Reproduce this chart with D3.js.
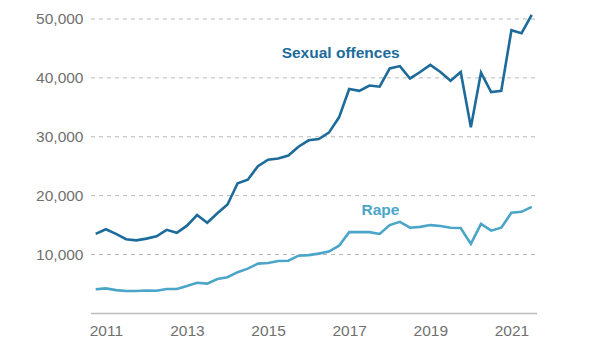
<!DOCTYPE html>
<html>
<head>
<meta charset="utf-8">
<script src="https://cdn.jsdelivr.net/npm/d3@7"></script>
<style>
  body { margin: 0; background: #fff; }
  svg { display: block; font-family: "Liberation Sans", Arial, sans-serif; }
</style>
</head>
<body>
<div id="chart"></div>
<script>
// quarters (calendar quarters, first = Oct-Dec 2010)
var quarters = [
  "2010Q4",
  "2011Q1","2011Q2","2011Q3","2011Q4",
  "2012Q1","2012Q2","2012Q3","2012Q4",
  "2013Q1","2013Q2","2013Q3","2013Q4",
  "2014Q1","2014Q2","2014Q3","2014Q4",
  "2015Q1","2015Q2","2015Q3","2015Q4",
  "2016Q1","2016Q2","2016Q3","2016Q4",
  "2017Q1","2017Q2","2017Q3","2017Q4",
  "2018Q1","2018Q2","2018Q3","2018Q4",
  "2019Q1","2019Q2","2019Q3","2019Q4",
  "2020Q1","2020Q2","2020Q3","2020Q4",
  "2021Q1","2021Q2","2021Q3"
];

var sexualOffences = [
  13500, 14300, 13500, 12600, 12400, 12700, 13100, 14200, 13700, 14900,
  16700, 15400, 17000, 18500, 22100, 22700, 25000, 26100, 26300, 26800,
  28300, 29400, 29600, 30700, 33300, 38100, 37800, 38700, 38500, 41600,
  42000, 39900, 41000, 42200, 41000, 39500, 41000, 31600, 40900, 37600,
  37800, 48100, 47600, 50700
];

var rape = [
  4100, 4250, 3950, 3800, 3800, 3900, 3850, 4150, 4150, 4650,
  5200, 5050, 5850, 6150, 7000, 7600, 8450, 8550, 8900, 8950,
  9800, 9900, 10150, 10500, 11500, 13800, 13800, 13800, 13500, 15000,
  15550, 14550, 14700, 15000, 14850, 14550, 14500, 11800, 15200, 14050,
  14550, 17100, 17250, 18100
];

var yTicks = [10000, 20000, 30000, 40000, 50000];
var xTicks = [2011, 2013, 2015, 2017, 2019, 2021];

// étiquettes des séries : position en (année, valeur)
var series = [
  { name: "Sexual offences", values: sexualOffences, color: "#1c6b9b", labelYear: 2016.79, labelValue: 43400 },
  { name: "Rape",            values: rape,           color: "#4aa5c9", labelYear: 2017.77, labelValue: 16700 }
];

var W = 600, H = 350;

function quarterToYear(q) {
  return +q.slice(0, 4) + (+q.slice(5) - 1) * 0.25;
}
var years = quarters.map(quarterToYear);

var svg = d3.select("#chart").append("svg")
    .attr("width", W)
    .attr("height", H);

// échelles
var x = d3.scaleLinear().domain([2010.75, 2021.5]).range([95.7, 531.7]);
var y = d3.scaleLinear().domain([0, 50000]).range([313.4, 19]);

var gridLeft = 91, gridRight = 537;

// gridlines
svg.append("g").selectAll("line")
    .data(yTicks)
    .enter().append("line")
    .attr("x1", gridLeft)
    .attr("x2", gridRight)
    .attr("y1", function(d) { return y(d); })
    .attr("y2", function(d) { return y(d); })
    .attr("stroke", "#b9b9b9")
    .attr("stroke-width", 1)
    .attr("stroke-dasharray", "4,4");

// baseline
svg.append("line")
    .attr("x1", gridLeft)
    .attr("x2", gridRight)
    .attr("y1", y(0))
    .attr("y2", y(0))
    .attr("stroke", "#bdbdbd")
    .attr("stroke-width", 1.5);

// y axis labels
var yAxis = svg.append("g")
    .attr("transform", "translate(" + gridLeft + ",0)")
    .call(d3.axisLeft(y).tickValues(yTicks).tickSize(0).tickPadding(7.5).tickFormat(d3.format(",")));
yAxis.select(".domain").remove();
yAxis.selectAll("text")
    .attr("fill", "#707070")
    .style("font-size", "15.5px")
    .style("font-family", "'Liberation Sans', Arial, sans-serif");

// x axis labels
var xAxis = svg.append("g")
    .attr("transform", "translate(0," + y(0) + ")")
    .call(d3.axisBottom(x).tickValues(xTicks).tickSize(0).tickFormat(d3.format("d")));
xAxis.select(".domain").remove();
xAxis.selectAll("text")
    .attr("y", 22.6)
    .attr("dy", 0)
    .attr("fill", "#707070")
    .style("font-size", "15.5px")
    .style("font-family", "'Liberation Sans', Arial, sans-serif");

// lines
var line = d3.line()
    .x(function(d, i) { return x(years[i]); })
    .y(function(d) { return y(d); });

svg.selectAll(".serie")
    .data(series)
    .enter().append("path")
    .attr("class", "serie")
    .attr("d", function(d) { return line(d.values); })
    .attr("fill", "none")
    .attr("stroke", function(d) { return d.color; })
    .attr("stroke-width", 2.6)
    .attr("stroke-linejoin", "miter");

// series labels
svg.selectAll(".label")
    .data(series)
    .enter().append("text")
    .attr("class", "label")
    .attr("x", function(d) { return x(d.labelYear); })
    .attr("y", function(d) { return y(d.labelValue); })
    .attr("text-anchor", "middle")
    .attr("fill", function(d) { return d.color; })
    .style("font-size", "15.5px")
    .style("font-weight", "bold")
    .text(function(d) { return d.name; });
</script>
</body>
</html>
